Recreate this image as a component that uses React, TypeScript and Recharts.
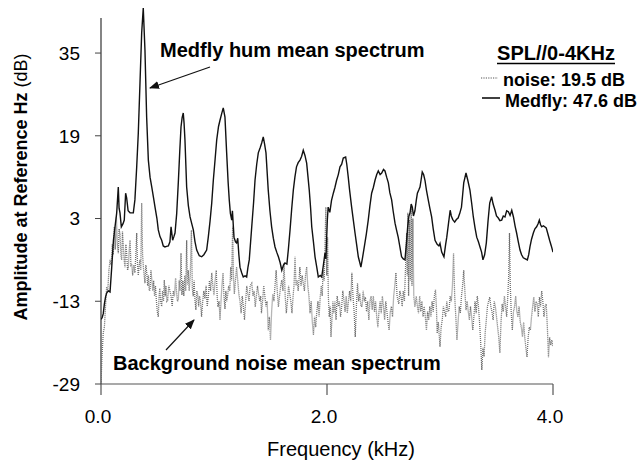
import React from "react";
import { LineChart, Line, XAxis, YAxis, ReferenceLine } from "recharts";

// [frequency kHz, amplitude dB]
const medflyPoints: [number, number][] = [
  [0.0, -16.5], [0.01, -16.2], [0.02, -15.4], [0.03, -13.5], [0.04, -12.2], [0.05, -11.4], [0.065, -11.0], [0.08, -11.2],
  [0.095, -6.4], [0.11, -1.2], [0.124, 1.4], [0.139, 4.1], [0.153, 9.1], [0.16, 5], [0.168, 4.1], [0.18, 1.4], [0.195, 2.0],
  [0.206, 2.7], [0.218, 7.9], [0.227, 7.0], [0.24, 4.5], [0.257, 4.1], [0.286, 4.1], [0.3, 6.6], [0.316, 13], [0.33, 19.5],
  [0.345, 29.2], [0.36, 38.9], [0.374, 43.7], [0.389, 35.6], [0.404, 22.6], [0.419, 14.3], [0.434, 11], [0.449, 9.1],
  [0.465, 7], [0.478, 5.2], [0.495, 3], [0.507, 0.8], [0.522, -0.5], [0.537, -1.2], [0.551, -2.3], [0.566, -2.5],
  [0.58, -2.4], [0.596, -2.3], [0.61, -1.5], [0.62, 1.4], [0.634, -1.2], [0.645, -0.5], [0.655, 0.2], [0.67, 4],
  [0.684, 9.9], [0.697, 16], [0.708, 20.7], [0.718, 22.5], [0.728, 23.4], [0.735, 21.5], [0.743, 18.2], [0.758, 9.1],
  [0.773, 5.5], [0.788, 3.3], [0.803, 2], [0.817, 0.8], [0.832, -1.5], [0.847, -3.1], [0.87, -4.2], [0.891, -4.4],
  [0.91, -4], [0.935, -3.1], [0.95, -0.5], [0.965, 2.5], [0.98, 6], [0.994, 10.4], [1.01, 14.5], [1.024, 18.2],
  [1.04, 20.8], [1.053, 22], [1.068, 23.3], [1.082, 24.4], [1.097, 22.6], [1.112, 15.7], [1.125, 10], [1.135, 6.6],
  [1.145, 4], [1.157, 2.7], [1.163, 4.5], [1.177, -0.6], [1.19, -1.5], [1.2, -1.7], [1.21, -0.8], [1.22, -4],
  [1.23, -6.4], [1.245, -7.5], [1.259, -8.3], [1.275, -8.1], [1.289, -8.3], [1.3, -6.5], [1.312, -5], [1.334, 1.4],
  [1.35, 6], [1.363, 10.4], [1.378, 13.5], [1.392, 15.7], [1.41, 16.8], [1.422, 17.6], [1.436, 18.8], [1.447, 17.5],
  [1.46, 15.7], [1.48, 8.5], [1.495, 4.5], [1.51, 1.4], [1.525, -0.8], [1.54, -2.5], [1.555, -3.5], [1.57, -4.4],
  [1.585, -5.5], [1.6, -7], [1.615, -6], [1.628, -5.6], [1.645, -5.8], [1.658, -3], [1.673, 0.8], [1.688, 5],
  [1.702, 8.5], [1.716, 11], [1.73, 13], [1.745, 13.8], [1.761, 14.3], [1.775, 15], [1.79, 16.2], [1.805, 15.2],
  [1.82, 13.7], [1.832, 11], [1.843, 8.5], [1.855, 5], [1.865, 1.4], [1.88, -1.5], [1.894, -4.4], [1.91, -6.5],
  [1.923, -8.3], [1.94, -8], [1.953, -8.3], [1.965, -6.5], [1.982, -3.7], [1.99, -4.8], [2.003, 2.7], [2.01, 5.2],
  [2.025, 4.2], [2.04, 6.5], [2.056, 7.9], [2.07, 9], [2.085, 10.4], [2.1, 11.5], [2.115, 13], [2.13, 13.5],
  [2.144, 14.7], [2.165, 14.9], [2.175, 13.5], [2.188, 11], [2.2, 8.5], [2.218, 5.2], [2.233, 2.7], [2.248, 0.2],
  [2.262, -2], [2.277, -4.4], [2.29, -5.5], [2.3, -6.4], [2.315, -4.5], [2.33, -2.5], [2.348, 0], [2.365, 2.7],
  [2.38, 5.5], [2.395, 7.9], [2.41, 9], [2.425, 10.4], [2.44, 11.5], [2.454, 12.2], [2.47, 11.5], [2.484, 11.8],
  [2.5, 12.5], [2.513, 12.2], [2.528, 11], [2.543, 9.9], [2.556, 8], [2.572, 6.6], [2.585, 4.5], [2.602, 2.1],
  [2.615, 0.8], [2.63, -0.6], [2.645, -2.5], [2.66, -4.4], [2.675, -4.8], [2.69, -5], [2.702, -2], [2.714, 1.4],
  [2.725, 3.5], [2.735, 4.1], [2.745, 5.8], [2.755, 5.2], [2.765, 3.5], [2.778, 4.5], [2.79, 6.5], [2.8, 7.9],
  [2.812, 8.5], [2.823, 9.1], [2.833, 10.5], [2.843, 12], [2.855, 11.5], [2.867, 10.4], [2.88, 8.5], [2.896, 6.6],
  [2.91, 5], [2.926, 3.3], [2.94, 1], [2.956, -1.2], [2.975, -2], [2.99, -2.3], [3.0, -1.8], [3.015, -3.5],
  [3.035, -4.4], [3.05, -2], [3.06, -0.6], [3.075, 2], [3.09, 4.6], [3.1, 3.5], [3.113, 2.8], [3.13, 2.3],
  [3.145, 2.8], [3.16, 3.1], [3.175, 4], [3.19, 5.2], [3.2, 7.5], [3.21, 9.9], [3.23, 11.8], [3.245, 10.5],
  [3.265, 8.5], [3.28, 6], [3.295, 3.3], [3.31, 1.2], [3.325, -0.6], [3.34, -1.5], [3.354, -2.5], [3.368, -3.5],
  [3.38, -5], [3.395, -4], [3.41, -1.7], [3.425, 2.5], [3.44, 6], [3.457, 7.2], [3.47, 5.8], [3.487, 4.6],
  [3.5, 3.5], [3.516, 3.1], [3.53, 2.6], [3.546, 2.7], [3.56, 3.5], [3.575, 3.3], [3.59, 4.5], [3.605, 4.3],
  [3.62, 3.6], [3.635, 4.6], [3.65, 3.3], [3.665, 1.5], [3.678, 0.2], [3.693, -1.5], [3.708, -3.1], [3.722, -4],
  [3.737, -4.6], [3.755, -4.8], [3.773, -5], [3.785, -4], [3.796, -2.5], [3.81, -1], [3.826, 0.2], [3.84, 1],
  [3.855, 1.4], [3.868, 2], [3.879, 2.7], [3.89, 1.8], [3.9, 1.4], [3.915, 1.6], [3.94, 1.2], [3.955, 0],
  [3.97, -1.2], [3.985, -2.3], [4.0, -3.5],
];

const noisePoints: [number, number][] = [
  [0.0, -29], [0.008, -24], [0.02, -19.1], [0.03, -18], [0.04, -14], [0.05, -10.2], [0.06, -11], [0.07, -7],
  [0.08, -5], [0.09, -6], [0.1, -2], [0.108, -4], [0.118, 1.4], [0.126, -3], [0.136, 3.3], [0.145, -2], [0.153, -3.7],
  [0.16, 1], [0.168, 0], [0.176, -4], [0.183, -5], [0.19, 0.5], [0.197, -2], [0.205, -5], [0.212, -6.4], [0.22, -2],
  [0.227, -3.7], [0.235, -7], [0.242, -6.4], [0.25, -3], [0.257, -1.2], [0.265, -6], [0.272, -5.8], [0.28, -8],
  [0.29, -6], [0.3, -7.5], [0.308, -4], [0.316, 0.2], [0.323, -6], [0.33, -8], [0.338, -6], [0.345, -5],
  [0.352, -7], [0.36, 6], [0.368, -4], [0.375, -6.4], [0.382, -8], [0.389, -9.5], [0.397, -6], [0.405, -7.5],
  [0.413, -10], [0.42, -8], [0.427, -11], [0.434, -10.8], [0.442, -7], [0.45, -8.9], [0.458, -11], [0.466, -9],
  [0.474, -12], [0.482, -10], [0.49, -12.8], [0.498, -15], [0.507, -16], [0.514, -12], [0.52, -10.5], [0.528, -13],
  [0.537, -14], [0.545, -11], [0.553, -13], [0.56, -8.9], [0.568, -12], [0.575, -10], [0.583, -13], [0.59, -12.8],
  [0.6, -10], [0.61, -11], [0.62, -12], [0.63, -14], [0.64, -11], [0.65, -12], [0.66, -8.5], [0.668, -11],
  [0.676, -13], [0.684, -12.8], [0.692, -9], [0.7, -11], [0.708, -3.7], [0.716, -11.8], [0.725, -9], [0.733, -12],
  [0.742, -8], [0.75, -11], [0.758, -1.2], [0.765, -9.8], [0.772, -7], [0.78, -11], [0.79, -8], [0.8, 0.8],
  [0.808, -10.5], [0.816, -12], [0.824, -9], [0.832, -13], [0.84, -14.7], [0.848, -11], [0.856, -11.8], [0.864, -14],
  [0.872, -12], [0.88, -13], [0.89, -16], [0.9, -13], [0.91, -11], [0.92, -12.5], [0.93, -10], [0.94, -14],
  [0.95, -12], [0.96, -9], [0.97, -11], [0.98, -7.5], [0.99, -10], [1.0, -11.8], [1.01, -9], [1.02, -7],
  [1.028, -12], [1.035, -14.1], [1.045, -13], [1.053, -16.6], [1.062, -13], [1.07, -10], [1.08, -7.5], [1.088, -12],
  [1.097, -14.5], [1.105, -11], [1.112, -13], [1.12, -12], [1.13, -10], [1.14, -11], [1.148, -6.4], [1.156, -9],
  [1.165, 1.4], [1.172, -8], [1.18, -11.6], [1.19, -9], [1.2, -6.4], [1.21, -9], [1.22, -11.6], [1.23, -13],
  [1.24, -15.3], [1.25, -12], [1.26, -14], [1.27, -16.6], [1.28, -13], [1.29, -10], [1.3, -11.6], [1.31, -13],
  [1.32, -10], [1.334, -9.5], [1.345, -12], [1.355, -11], [1.365, -14.1], [1.375, -12], [1.385, -10], [1.395, -11.6],
  [1.405, -13], [1.413, -12], [1.42, -15.3], [1.43, -13], [1.44, -10], [1.45, -12], [1.46, -14], [1.47, -13],
  [1.48, -18.6], [1.49, -16], [1.5, -20.5], [1.51, -15], [1.52, -11.6], [1.53, -13], [1.54, -10], [1.55, -7],
  [1.56, -11], [1.57, -14.1], [1.58, -12], [1.59, -10], [1.6, -8.9], [1.61, -11], [1.62, -5.6], [1.63, -12],
  [1.64, -15.3], [1.65, -13], [1.66, -10], [1.67, -11.6], [1.68, -13], [1.69, -15.3], [1.7, -12], [1.708, -10],
  [1.717, -4.4], [1.726, -10], [1.735, -8.9], [1.745, -11], [1.752, -9], [1.76, -6.4], [1.77, -10], [1.78, -8],
  [1.79, -9.5], [1.8, -11], [1.81, -8], [1.82, -6.4], [1.83, -10], [1.84, -12], [1.85, -15.3], [1.86, -13],
  [1.87, -17], [1.88, -19.5], [1.89, -16], [1.9, -18], [1.91, -15], [1.92, -13], [1.93, -16], [1.94, -12.2],
  [1.95, -10], [1.958, -12], [1.965, -7], [1.975, -9], [1.99, 5.2], [1.998, -8], [2.005, -0.6], [2.012, -12],
  [2.02, -16], [2.028, -14], [2.035, -19.9], [2.045, -16], [2.052, -13], [2.06, -15.3], [2.07, -13], [2.08, -16.6],
  [2.09, -12], [2.1, -14], [2.11, -13], [2.12, -16], [2.13, -14], [2.14, -11], [2.15, -12.8], [2.16, -15],
  [2.17, -12], [2.18, -15.3], [2.19, -13], [2.2, -11], [2.21, -13], [2.22, -7.5], [2.23, -12], [2.24, -15],
  [2.25, -19.9], [2.26, -14], [2.27, -9.5], [2.28, -13], [2.29, -11.5], [2.3, -14], [2.31, -14], [2.32, -11],
  [2.33, -13], [2.34, -12.2], [2.35, -15], [2.36, -13], [2.37, -16.6], [2.38, -13], [2.39, -12], [2.4, -14.7],
  [2.41, -12], [2.42, -15], [2.43, -13], [2.44, -16], [2.45, -18], [2.46, -15], [2.47, -13], [2.48, -15.3],
  [2.49, -12], [2.5, -14], [2.51, -16.6], [2.52, -13], [2.53, -15], [2.54, -17], [2.55, -18.6], [2.56, -15],
  [2.57, -14], [2.58, -16], [2.59, -12], [2.6, -10], [2.61, -7.5], [2.62, -12], [2.635, -13.5], [2.645, -11],
  [2.655, -12], [2.665, -14], [2.675, -11], [2.685, -13], [2.695, -6.4], [2.705, 0.2], [2.71, -8], [2.715, 4.1],
  [2.722, -12], [2.73, 2.7], [2.737, -9], [2.745, 5.2], [2.752, -10], [2.76, 3], [2.768, -12], [2.778, -14.1],
  [2.79, -12], [2.8, -14], [2.81, -15.3], [2.82, -12], [2.83, -15], [2.84, -13], [2.85, -16], [2.86, -14],
  [2.87, -16], [2.88, -18.6], [2.89, -15], [2.9, -16.6], [2.91, -14], [2.92, -16], [2.93, -13], [2.94, -15],
  [2.95, -12], [2.96, -10.8], [2.968, -14], [2.975, -19.2], [2.985, -17], [3.0, -21.8], [3.01, -18], [3.02, -16.6],
  [3.03, -14], [3.04, -15], [3.05, -16], [3.06, -13], [3.07, -15], [3.08, -14.7], [3.09, -12], [3.1, -13],
  [3.11, -10], [3.12, -3.7], [3.13, -12], [3.14, -16], [3.15, -20.5], [3.16, -17], [3.17, -14], [3.18, -15.3],
  [3.19, -12], [3.2, -10], [3.21, -7], [3.22, -11], [3.23, -14.7], [3.24, -13], [3.25, -15], [3.26, -16.6],
  [3.27, -14], [3.28, -16], [3.29, -18.6], [3.3, -16], [3.31, -13], [3.32, -15.3], [3.33, -12], [3.34, -14],
  [3.35, -17], [3.36, -21], [3.37, -26.3], [3.38, -22], [3.39, -23.7], [3.4, -19], [3.41, -16.6], [3.42, -14],
  [3.43, -13], [3.44, -12.2], [3.45, -14], [3.46, -15], [3.47, -16.6], [3.48, -13], [3.49, -14], [3.5, -16],
  [3.51, -18], [3.52, -20], [3.53, -23], [3.54, -17], [3.55, -13.5], [3.56, -15], [3.57, -12], [3.58, -14],
  [3.59, -16], [3.6, -12], [3.608, -8], [3.615, 0.2], [3.622, -10], [3.63, -15], [3.64, -18.6], [3.65, -15],
  [3.66, -14], [3.67, -12], [3.68, -15], [3.69, -16], [3.7, -14], [3.71, -17], [3.72, -18], [3.73, -19.9],
  [3.74, -17], [3.75, -20], [3.76, -22], [3.77, -23.8], [3.78, -20], [3.79, -18], [3.8, -18.6], [3.81, -16],
  [3.82, -14], [3.83, -12.2], [3.84, -15], [3.85, -13], [3.86, -13.5], [3.87, -16], [3.88, -12.2], [3.89, -14],
  [3.9, -11], [3.91, -13], [3.92, -16], [3.93, -14], [3.94, -13.5], [3.95, -18], [3.96, -23.8], [3.97, -20],
  [3.98, -21.5], [3.99, -20.5], [4.0, -21.8],
];

const xTicks = [0, 2, 4];
const yTicks = [-29, -13, 3, 19, 35];

const medflyData = medflyPoints.map(([f, v]) => ({ f, v }));
const noiseData = noisePoints.map(([f, v]) => ({ f, v }));

const FONT = "'Liberation Sans', Arial, Helvetica, sans-serif";

export default function App() {
  return (
    <div style={{ position: "absolute", left: 0, top: 0, width: 639, height: 465, background: "#fff" }}>
      <LineChart
        width={639}
        height={465}
        margin={{ top: 6, right: 86, bottom: 0, left: 0 }}
        style={{ fontFamily: FONT }}
      >
        <XAxis
          type="number"
          dataKey="f"
          domain={[0, 4]}
          ticks={xTicks}
          allowDataOverflow
          height={81}
          tickFormatter={(v: number) => v.toFixed(1)}
          tick={{ fill: "#000", fontSize: 19, fontFamily: FONT, dx: -3 }}
          tickSize={11}
          tickMargin={15}
          axisLine={{ stroke: "#555", strokeWidth: 1.2 }}
          tickLine={{ stroke: "#555", strokeWidth: 1.2 }}
        />
        <YAxis
          type="number"
          domain={[-29, 44.1]}
          ticks={yTicks}
          allowDataOverflow
          width={101}
          tick={{ fill: "#000", fontSize: 19, fontFamily: FONT }}
          tickSize={6}
          tickMargin={15}
          axisLine={false}
          tickLine={{ stroke: "#444", strokeWidth: 1 }}
        />
        <ReferenceLine
          segment={[{ x: 0, y: -29 }, { x: 0, y: 41.8 }]}
          stroke="#333"
          strokeWidth={1.2}
        />
        <Line
          data={noiseData}
          dataKey="v"
          type="linear"
          stroke="#6e6e6e"
          strokeWidth={1.3}
          strokeDasharray="1 1"
          dot={false}
          activeDot={false}
          isAnimationActive={false}
        />
        <Line
          data={medflyData}
          dataKey="v"
          type="linear"
          stroke="#111"
          strokeWidth={1.4}
          dot={false}
          activeDot={false}
          isAnimationActive={false}
        />
      </LineChart>
      <svg
        width={639}
        height={465}
        style={{ position: "absolute", left: 0, top: 0, pointerEvents: "none" }}
        fontFamily={FONT}
      >
        <defs>
          <marker id="arrowHead" markerWidth="10" markerHeight="8" refX="9" refY="4" orient="auto" markerUnits="userSpaceOnUse">
            <path d="M0,0 L10,4 L0,8 Z" fill="#111" />
          </marker>
        </defs>
        <text
          x={27}
          y={187}
          transform="rotate(-90, 27, 187)"
          textAnchor="middle"
          fontSize={18}
          fill="#000"
        >
          <tspan fontWeight="bold">Amplitude at Reference Hz</tspan>
          <tspan> (dB)</tspan>
        </text>
        <text x={341} y={456} textAnchor="middle" fontSize={20} fill="#000">
          Frequency (kHz)
        </text>
        <text x={160} y={57} fontSize={20} fontWeight="bold" fill="#000">
          Medfly hum mean spectrum
        </text>
        <line x1={210} y1={67} x2={150} y2={88} stroke="#111" strokeWidth={1.2} markerEnd="url(#arrowHead)" />
        <text x={113} y={370} fontSize={20} fontWeight="bold" fill="#000">
          Background noise mean spectrum
        </text>
        <line x1={166} y1={350} x2={194} y2={320} stroke="#111" strokeWidth={1.2} markerEnd="url(#arrowHead)" />
        <text x={556} y={60} textAnchor="middle" fontSize={20} fontWeight="bold" fill="#000">
          SPL//0-4KHz
        </text>
        <line x1={497} y1={63.5} x2={615} y2={63.5} stroke="#000" strokeWidth={1.5} />
        <line x1={481} y1={78} x2={498} y2={78} stroke="#555" strokeWidth={1.2} strokeDasharray="1.2 1.2" />
        <text x={503} y={86} fontSize={18} fontWeight="bold" fill="#000">
          noise: 19.5 dB
        </text>
        <line x1={482} y1={98} x2={500} y2={98} stroke="#111" strokeWidth={1.6} />
        <text x={505} y={107} fontSize={18} fontWeight="bold" fill="#000">
          Medfly: 47.6 dB
        </text>
      </svg>
    </div>
  );
}
